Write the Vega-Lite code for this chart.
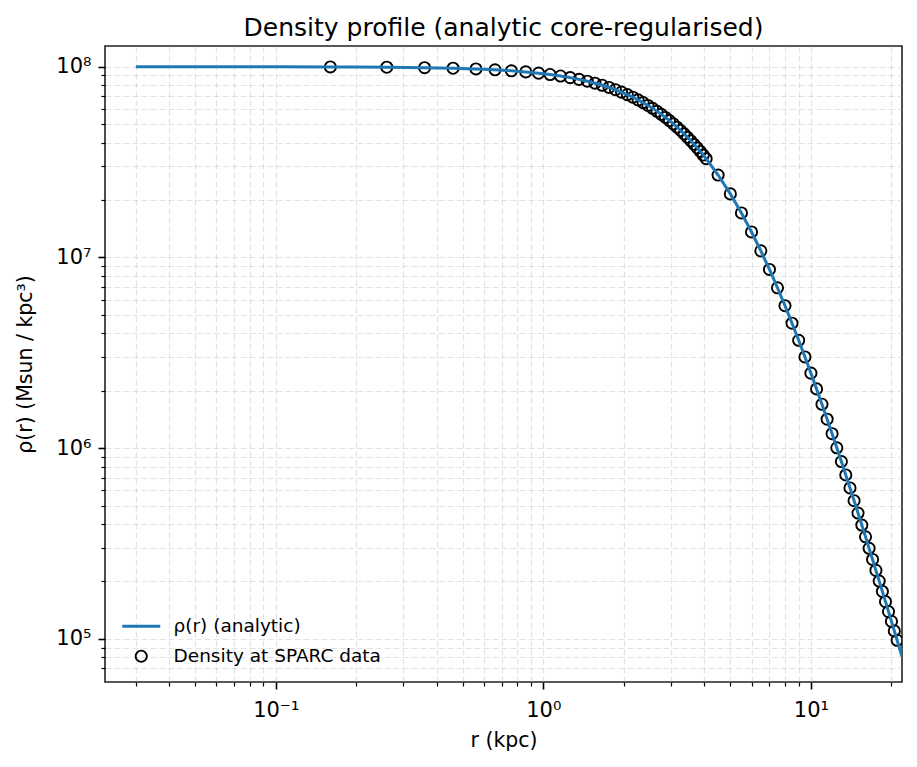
{
  "$schema": "https://vega.github.io/schema/vega-lite/v6.json",
  "width": 797,
  "height": 636,
  "autosize": "none",
  "padding": {"left": 105, "top": 46, "right": 15, "bottom": 85},
  "background": "white",
  "config": {
    "font": "DejaVu Sans",
    "view": {"stroke": "#222222", "strokeWidth": 1.6},
    "axis": {
      "domain": false,
      "grid": true,
      "gridColor": "#b0b0b0",
      "gridOpacity": 0.35,
      "gridDash": [6, 3],
      "gridWidth": 1.2,
      "tickColor": "black",
      "labelColor": "black",
      "labelFont": "DejaVu Sans",
      "labelFontSize": 21,
      "titleFont": "DejaVu Sans",
      "titleFontSize": 20.5,
      "titleFontWeight": "normal",
      "titleColor": "black",
      "labelFlush": false,
      "labelOverlap": false
    },
    "legend": {
      "orient": "none",
      "legendX": 27,
      "legendY": 571,
      "labelFont": "DejaVu Sans",
      "labelFontSize": 18.5,
      "labelColor": "black",
      "labelOffset": 23,
      "labelLimit": 0,
      "rowPadding": 10,
      "symbolSize": 125,
      "padding": 0
    }
  },
  "title": {
    "text": "Density profile (analytic core-regularised)",
    "font": "DejaVu Sans",
    "fontSize": 25,
    "fontWeight": "normal",
    "color": "black",
    "anchor": "middle",
    "offset": 5
  },
  "datasets": {
    "analytic": [
      {"r": 0.03, "rho": 99992000, "series": "ρ(r) (analytic)"},
      {"r": 0.06, "rho": 99969500, "series": "ρ(r) (analytic)"},
      {"r": 0.1, "rho": 99915300, "series": "ρ(r) (analytic)"},
      {"r": 0.16, "rho": 99783000, "series": "ρ(r) (analytic)"},
      {"r": 0.2, "rho": 99661600, "series": "ρ(r) (analytic)"},
      {"r": 0.26, "rho": 99429000, "series": "ρ(r) (analytic)"},
      {"r": 0.36, "rho": 98910000, "series": "ρ(r) (analytic)"},
      {"r": 0.46, "rho": 98228000, "series": "ρ(r) (analytic)"},
      {"r": 0.56, "rho": 97390000, "series": "ρ(r) (analytic)"},
      {"r": 0.66, "rho": 96400000, "series": "ρ(r) (analytic)"},
      {"r": 0.76, "rho": 95266000, "series": "ρ(r) (analytic)"},
      {"r": 0.86, "rho": 93994000, "series": "ρ(r) (analytic)"},
      {"r": 0.96, "rho": 92594000, "series": "ρ(r) (analytic)"},
      {"r": 1.06, "rho": 91074000, "series": "ρ(r) (analytic)"},
      {"r": 1.16, "rho": 89443000, "series": "ρ(r) (analytic)"},
      {"r": 1.26, "rho": 87712000, "series": "ρ(r) (analytic)"},
      {"r": 1.36, "rho": 85889000, "series": "ρ(r) (analytic)"},
      {"r": 1.46, "rho": 83987000, "series": "ρ(r) (analytic)"},
      {"r": 1.56, "rho": 82014000, "series": "ρ(r) (analytic)"},
      {"r": 1.66, "rho": 79984000, "series": "ρ(r) (analytic)"},
      {"r": 1.76, "rho": 77900000, "series": "ρ(r) (analytic)"},
      {"r": 1.86, "rho": 75777000, "series": "ρ(r) (analytic)"},
      {"r": 1.96, "rho": 73624000, "series": "ρ(r) (analytic)"},
      {"r": 2.06, "rho": 71450000, "series": "ρ(r) (analytic)"},
      {"r": 2.16, "rho": 69263000, "series": "ρ(r) (analytic)"},
      {"r": 2.26, "rho": 67072000, "series": "ρ(r) (analytic)"},
      {"r": 2.36, "rho": 64884000, "series": "ρ(r) (analytic)"},
      {"r": 2.46, "rho": 62706000, "series": "ρ(r) (analytic)"},
      {"r": 2.56, "rho": 60546000, "series": "ρ(r) (analytic)"},
      {"r": 2.66, "rho": 58408000, "series": "ρ(r) (analytic)"},
      {"r": 2.76, "rho": 56301000, "series": "ρ(r) (analytic)"},
      {"r": 2.86, "rho": 54223000, "series": "ρ(r) (analytic)"},
      {"r": 2.96, "rho": 52180000, "series": "ρ(r) (analytic)"},
      {"r": 3.06, "rho": 50183000, "series": "ρ(r) (analytic)"},
      {"r": 3.16, "rho": 48226000, "series": "ρ(r) (analytic)"},
      {"r": 3.26, "rho": 46323000, "series": "ρ(r) (analytic)"},
      {"r": 3.36, "rho": 44465000, "series": "ρ(r) (analytic)"},
      {"r": 3.46, "rho": 42658000, "series": "ρ(r) (analytic)"},
      {"r": 3.56, "rho": 40905000, "series": "ρ(r) (analytic)"},
      {"r": 3.66, "rho": 39205000, "series": "ρ(r) (analytic)"},
      {"r": 3.76, "rho": 37559000, "series": "ρ(r) (analytic)"},
      {"r": 3.86, "rho": 35969000, "series": "ρ(r) (analytic)"},
      {"r": 3.96, "rho": 34431000, "series": "ρ(r) (analytic)"},
      {"r": 4.06, "rho": 32949000, "series": "ρ(r) (analytic)"},
      {"r": 4.5, "rho": 27061000, "series": "ρ(r) (analytic)"},
      {"r": 5.0, "rho": 21543000, "series": "ρ(r) (analytic)"},
      {"r": 5.5, "rho": 17117000, "series": "ρ(r) (analytic)"},
      {"r": 6.0, "rho": 13603000, "series": "ρ(r) (analytic)"},
      {"r": 6.5, "rho": 10831000, "series": "ρ(r) (analytic)"},
      {"r": 7.0, "rho": 8650400, "series": "ρ(r) (analytic)"},
      {"r": 7.5, "rho": 6936000, "series": "ρ(r) (analytic)"},
      {"r": 8.0, "rho": 5586600, "series": "ρ(r) (analytic)"},
      {"r": 8.5, "rho": 4521900, "series": "ρ(r) (analytic)"},
      {"r": 9.0, "rho": 3679100, "series": "ρ(r) (analytic)"},
      {"r": 9.5, "rho": 3009100, "series": "ρ(r) (analytic)"},
      {"r": 10.0, "rho": 2474300, "series": "ρ(r) (analytic)"},
      {"r": 11.0, "rho": 1699300, "series": "ρ(r) (analytic)"},
      {"r": 12.0, "rho": 1190800, "series": "ρ(r) (analytic)"},
      {"r": 13.0, "rho": 850500, "series": "ρ(r) (analytic)"},
      {"r": 14.0, "rho": 618300, "series": "ρ(r) (analytic)"},
      {"r": 15.0, "rho": 457000, "series": "ρ(r) (analytic)"},
      {"r": 16.0, "rho": 342800, "series": "ρ(r) (analytic)"},
      {"r": 17.0, "rho": 260800, "series": "ρ(r) (analytic)"},
      {"r": 18.0, "rho": 200900, "series": "ρ(r) (analytic)"},
      {"r": 19.0, "rho": 156700, "series": "ρ(r) (analytic)"},
      {"r": 20.0, "rho": 123500, "series": "ρ(r) (analytic)"},
      {"r": 21.0, "rho": 98330, "series": "ρ(r) (analytic)"},
      {"r": 21.9, "rho": 80720, "series": "ρ(r) (analytic)"}
    ],
    "sparc": [
      {"r": 0.16, "rho": 99783000, "series": "Density at SPARC data"},
      {"r": 0.26, "rho": 99429000, "series": "Density at SPARC data"},
      {"r": 0.36, "rho": 98910000, "series": "Density at SPARC data"},
      {"r": 0.46, "rho": 98228000, "series": "Density at SPARC data"},
      {"r": 0.56, "rho": 97390000, "series": "Density at SPARC data"},
      {"r": 0.66, "rho": 96400000, "series": "Density at SPARC data"},
      {"r": 0.76, "rho": 95266000, "series": "Density at SPARC data"},
      {"r": 0.86, "rho": 93994000, "series": "Density at SPARC data"},
      {"r": 0.96, "rho": 92594000, "series": "Density at SPARC data"},
      {"r": 1.06, "rho": 91074000, "series": "Density at SPARC data"},
      {"r": 1.16, "rho": 89443000, "series": "Density at SPARC data"},
      {"r": 1.26, "rho": 87712000, "series": "Density at SPARC data"},
      {"r": 1.36, "rho": 85889000, "series": "Density at SPARC data"},
      {"r": 1.46, "rho": 83987000, "series": "Density at SPARC data"},
      {"r": 1.56, "rho": 82014000, "series": "Density at SPARC data"},
      {"r": 1.66, "rho": 79984000, "series": "Density at SPARC data"},
      {"r": 1.76, "rho": 77900000, "series": "Density at SPARC data"},
      {"r": 1.86, "rho": 75777000, "series": "Density at SPARC data"},
      {"r": 1.96, "rho": 73624000, "series": "Density at SPARC data"},
      {"r": 2.06, "rho": 71450000, "series": "Density at SPARC data"},
      {"r": 2.16, "rho": 69263000, "series": "Density at SPARC data"},
      {"r": 2.26, "rho": 67072000, "series": "Density at SPARC data"},
      {"r": 2.36, "rho": 64884000, "series": "Density at SPARC data"},
      {"r": 2.46, "rho": 62706000, "series": "Density at SPARC data"},
      {"r": 2.56, "rho": 60546000, "series": "Density at SPARC data"},
      {"r": 2.66, "rho": 58408000, "series": "Density at SPARC data"},
      {"r": 2.76, "rho": 56301000, "series": "Density at SPARC data"},
      {"r": 2.86, "rho": 54223000, "series": "Density at SPARC data"},
      {"r": 2.96, "rho": 52180000, "series": "Density at SPARC data"},
      {"r": 3.06, "rho": 50183000, "series": "Density at SPARC data"},
      {"r": 3.16, "rho": 48226000, "series": "Density at SPARC data"},
      {"r": 3.26, "rho": 46323000, "series": "Density at SPARC data"},
      {"r": 3.36, "rho": 44465000, "series": "Density at SPARC data"},
      {"r": 3.46, "rho": 42658000, "series": "Density at SPARC data"},
      {"r": 3.56, "rho": 40905000, "series": "Density at SPARC data"},
      {"r": 3.66, "rho": 39205000, "series": "Density at SPARC data"},
      {"r": 3.76, "rho": 37559000, "series": "Density at SPARC data"},
      {"r": 3.86, "rho": 35969000, "series": "Density at SPARC data"},
      {"r": 3.96, "rho": 34431000, "series": "Density at SPARC data"},
      {"r": 4.06, "rho": 32949000, "series": "Density at SPARC data"},
      {"r": 4.5, "rho": 27061000, "series": "Density at SPARC data"},
      {"r": 5.0, "rho": 21543000, "series": "Density at SPARC data"},
      {"r": 5.5, "rho": 17117000, "series": "Density at SPARC data"},
      {"r": 6.0, "rho": 13603000, "series": "Density at SPARC data"},
      {"r": 6.5, "rho": 10831000, "series": "Density at SPARC data"},
      {"r": 7.0, "rho": 8650400, "series": "Density at SPARC data"},
      {"r": 7.5, "rho": 6936000, "series": "Density at SPARC data"},
      {"r": 8.0, "rho": 5586600, "series": "Density at SPARC data"},
      {"r": 8.5, "rho": 4521900, "series": "Density at SPARC data"},
      {"r": 9.0, "rho": 3679100, "series": "Density at SPARC data"},
      {"r": 9.5, "rho": 3009100, "series": "Density at SPARC data"},
      {"r": 10.0, "rho": 2474300, "series": "Density at SPARC data"},
      {"r": 10.5, "rho": 2045200, "series": "Density at SPARC data"},
      {"r": 11.0, "rho": 1699300, "series": "Density at SPARC data"},
      {"r": 11.5, "rho": 1419000, "series": "Density at SPARC data"},
      {"r": 12.0, "rho": 1190800, "series": "Density at SPARC data"},
      {"r": 12.5, "rho": 1004100, "series": "Density at SPARC data"},
      {"r": 13.0, "rho": 850500, "series": "Density at SPARC data"},
      {"r": 13.5, "rho": 723600, "series": "Density at SPARC data"},
      {"r": 14.0, "rho": 618300, "series": "Density at SPARC data"},
      {"r": 14.5, "rho": 530500, "series": "Density at SPARC data"},
      {"r": 15.0, "rho": 457000, "series": "Density at SPARC data"},
      {"r": 15.5, "rho": 395100, "series": "Density at SPARC data"},
      {"r": 16.0, "rho": 342800, "series": "Density at SPARC data"},
      {"r": 16.5, "rho": 298500, "series": "Density at SPARC data"},
      {"r": 17.0, "rho": 260800, "series": "Density at SPARC data"},
      {"r": 17.5, "rho": 228600, "series": "Density at SPARC data"},
      {"r": 18.0, "rho": 200900, "series": "Density at SPARC data"},
      {"r": 18.5, "rho": 177200, "series": "Density at SPARC data"},
      {"r": 19.0, "rho": 156700, "series": "Density at SPARC data"},
      {"r": 19.5, "rho": 138900, "series": "Density at SPARC data"},
      {"r": 20.0, "rho": 123500, "series": "Density at SPARC data"},
      {"r": 20.5, "rho": 110060, "series": "Density at SPARC data"},
      {"r": 21.0, "rho": 98330, "series": "Density at SPARC data"}
    ]
  },
  "encoding": {
    "x": {
      "field": "r",
      "type": "quantitative",
      "scale": {"type": "log", "domain": [0.02301, 21.9], "nice": false, "zero": false},
      "axis": {
        "title": "r (kpc)",
        "values": [0.03, 0.04, 0.05, 0.06, 0.07, 0.08, 0.09, 0.1, 0.2, 0.3, 0.4, 0.5, 0.6, 0.7, 0.8, 0.9, 1, 2, 3, 4, 5, 6, 7, 8, 9, 10, 20],
        "labelExpr": "datum.value == 0.1 ? '10⁻¹' : datum.value == 1 ? '10⁰' : datum.value == 10 ? '10¹' : ''",
        "tickSize": {"condition": {"test": "datum.value == 0.1 || datum.value == 1 || datum.value == 10", "value": 7}, "value": 4},
        "tickWidth": {"condition": {"test": "datum.value == 0.1 || datum.value == 1 || datum.value == 10", "value": 1.6}, "value": 1.2},
        "labelPadding": 10,
        "titlePadding": 10
      }
    },
    "y": {
      "field": "rho",
      "type": "quantitative",
      "scale": {"type": "log", "domain": [59400, 128500000], "nice": false, "zero": false},
      "axis": {
        "title": "ρ(r) (Msun / kpc³)",
        "values": [70000, 80000, 90000, 100000, 200000, 300000, 400000, 500000, 600000, 700000, 800000, 900000, 1000000, 2000000, 3000000, 4000000, 5000000, 6000000, 7000000, 8000000, 9000000, 10000000, 20000000, 30000000, 40000000, 50000000, 60000000, 70000000, 80000000, 90000000, 100000000],
        "labelExpr": "datum.value == 100000 ? '10⁵' : datum.value == 1000000 ? '10⁶' : datum.value == 10000000 ? '10⁷' : datum.value == 100000000 ? '10⁸' : ''",
        "tickSize": {"condition": {"test": "datum.value == 100000 || datum.value == 1000000 || datum.value == 10000000 || datum.value == 100000000", "value": 7}, "value": 4},
        "tickWidth": {"condition": {"test": "datum.value == 100000 || datum.value == 1000000 || datum.value == 10000000 || datum.value == 100000000", "value": 1.6}, "value": 1.2},
        "labelPadding": 7,
        "titlePadding": 20
      }
    }
  },
  "layer": [
    {
      "data": {"name": "sparc"},
      "mark": {"type": "point", "filled": false, "clip": true, "opacity": 1, "size": 125},
      "encoding": {
        "stroke": {"field": "series", "type": "nominal", "scale": {"domain": ["ρ(r) (analytic)", "Density at SPARC data"], "range": ["#1f77b4", "#000000"]}, "legend": {"title": null}},
        "shape": {"field": "series", "type": "nominal", "scale": {"domain": ["ρ(r) (analytic)", "Density at SPARC data"], "range": ["M-3.4,0H3.4", "circle"]}, "legend": {"title": null}},
        "strokeWidth": {"field": "series", "type": "nominal", "scale": {"domain": ["ρ(r) (analytic)", "Density at SPARC data"], "range": [3, 1.9]}, "legend": {"title": null}}
      }
    },
    {
      "data": {"name": "analytic"},
      "mark": {"type": "line", "clip": true},
      "encoding": {
        "stroke": {"field": "series", "type": "nominal", "legend": {"title": null}},
        "strokeWidth": {"field": "series", "type": "nominal", "legend": {"title": null}}
      }
    }
  ],
  "resolve": {"scale": {"stroke": "shared", "strokeWidth": "shared", "shape": "shared"}}
}
